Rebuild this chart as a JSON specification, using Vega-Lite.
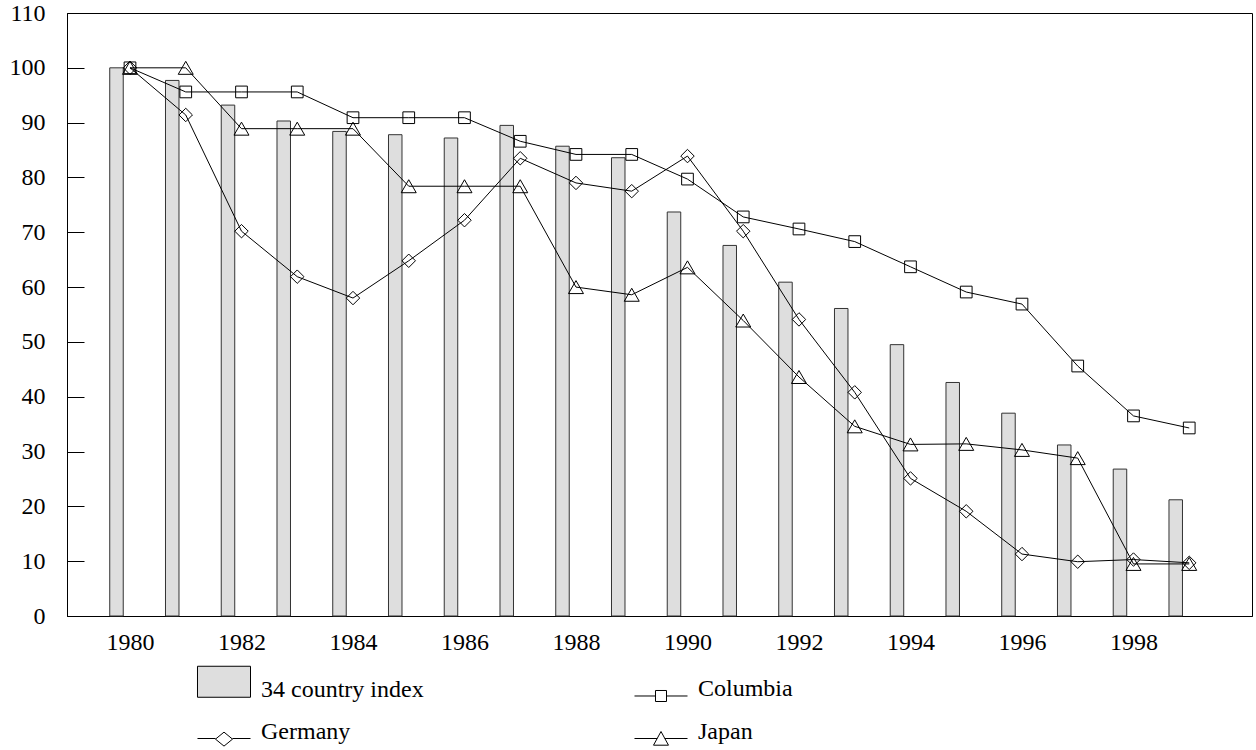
{
  "$schema": "https://vega.github.io/schema/vega-lite/v6.json",
  "autosize": {"type": "none"},
  "width": 1185,
  "height": 603,
  "padding": {"left": 67, "top": 13, "right": 4, "bottom": 134},
  "background": "white",
  "config": {
    "view": {"stroke": "black", "strokeWidth": 1},
    "font": "Liberation Serif, Times New Roman, serif",
    "axis": {
      "labelFont": "Liberation Serif, Times New Roman, serif",
      "labelFontSize": 24,
      "labelColor": "black",
      "domainColor": "black",
      "tickColor": "black",
      "grid": false,
      "title": null
    },
    "legend": {
      "labelFont": "Liberation Serif, Times New Roman, serif"
    }
  },
  "data": {
    "values": [
      {"year": 1980, "series": "34 country index", "value": 100},
      {"year": 1981, "series": "34 country index", "value": 97.7},
      {"year": 1982, "series": "34 country index", "value": 93.2},
      {"year": 1983, "series": "34 country index", "value": 90.3},
      {"year": 1984, "series": "34 country index", "value": 88.4},
      {"year": 1985, "series": "34 country index", "value": 87.8},
      {"year": 1986, "series": "34 country index", "value": 87.2},
      {"year": 1987, "series": "34 country index", "value": 89.5},
      {"year": 1988, "series": "34 country index", "value": 85.7},
      {"year": 1989, "series": "34 country index", "value": 83.6},
      {"year": 1990, "series": "34 country index", "value": 73.7},
      {"year": 1991, "series": "34 country index", "value": 67.6},
      {"year": 1992, "series": "34 country index", "value": 60.9},
      {"year": 1993, "series": "34 country index", "value": 56.1},
      {"year": 1994, "series": "34 country index", "value": 49.5},
      {"year": 1995, "series": "34 country index", "value": 42.6},
      {"year": 1996, "series": "34 country index", "value": 37.0},
      {"year": 1997, "series": "34 country index", "value": 31.2},
      {"year": 1998, "series": "34 country index", "value": 26.8},
      {"year": 1999, "series": "34 country index", "value": 21.2},
      {"year": 1980, "series": "Columbia", "value": 100},
      {"year": 1981, "series": "Columbia", "value": 95.6},
      {"year": 1982, "series": "Columbia", "value": 95.6},
      {"year": 1983, "series": "Columbia", "value": 95.6},
      {"year": 1984, "series": "Columbia", "value": 90.9},
      {"year": 1985, "series": "Columbia", "value": 90.9},
      {"year": 1986, "series": "Columbia", "value": 90.9},
      {"year": 1987, "series": "Columbia", "value": 86.6},
      {"year": 1988, "series": "Columbia", "value": 84.2},
      {"year": 1989, "series": "Columbia", "value": 84.2},
      {"year": 1990, "series": "Columbia", "value": 79.7},
      {"year": 1991, "series": "Columbia", "value": 72.8},
      {"year": 1992, "series": "Columbia", "value": 70.6},
      {"year": 1993, "series": "Columbia", "value": 68.3},
      {"year": 1994, "series": "Columbia", "value": 63.7},
      {"year": 1995, "series": "Columbia", "value": 59.1},
      {"year": 1996, "series": "Columbia", "value": 56.9},
      {"year": 1997, "series": "Columbia", "value": 45.6},
      {"year": 1998, "series": "Columbia", "value": 36.5},
      {"year": 1999, "series": "Columbia", "value": 34.3},
      {"year": 1980, "series": "Germany", "value": 100},
      {"year": 1981, "series": "Germany", "value": 91.4},
      {"year": 1982, "series": "Germany", "value": 70.2},
      {"year": 1983, "series": "Germany", "value": 61.9},
      {"year": 1984, "series": "Germany", "value": 58.0},
      {"year": 1985, "series": "Germany", "value": 64.8},
      {"year": 1986, "series": "Germany", "value": 72.2},
      {"year": 1987, "series": "Germany", "value": 83.5},
      {"year": 1988, "series": "Germany", "value": 79.0},
      {"year": 1989, "series": "Germany", "value": 77.5},
      {"year": 1990, "series": "Germany", "value": 83.9},
      {"year": 1991, "series": "Germany", "value": 70.2},
      {"year": 1992, "series": "Germany", "value": 54.1},
      {"year": 1993, "series": "Germany", "value": 40.8},
      {"year": 1994, "series": "Germany", "value": 25.1},
      {"year": 1995, "series": "Germany", "value": 19.1},
      {"year": 1996, "series": "Germany", "value": 11.3},
      {"year": 1997, "series": "Germany", "value": 9.9},
      {"year": 1998, "series": "Germany", "value": 10.3},
      {"year": 1999, "series": "Germany", "value": 9.7},
      {"year": 1980, "series": "Japan", "value": 100},
      {"year": 1981, "series": "Japan", "value": 100},
      {"year": 1982, "series": "Japan", "value": 88.9},
      {"year": 1983, "series": "Japan", "value": 88.9},
      {"year": 1984, "series": "Japan", "value": 88.9},
      {"year": 1985, "series": "Japan", "value": 78.4},
      {"year": 1986, "series": "Japan", "value": 78.4},
      {"year": 1987, "series": "Japan", "value": 78.4},
      {"year": 1988, "series": "Japan", "value": 60.0},
      {"year": 1989, "series": "Japan", "value": 58.6},
      {"year": 1990, "series": "Japan", "value": 63.6},
      {"year": 1991, "series": "Japan", "value": 53.9},
      {"year": 1992, "series": "Japan", "value": 43.6},
      {"year": 1993, "series": "Japan", "value": 34.6},
      {"year": 1994, "series": "Japan", "value": 31.3},
      {"year": 1995, "series": "Japan", "value": 31.4},
      {"year": 1996, "series": "Japan", "value": 30.3},
      {"year": 1997, "series": "Japan", "value": 28.8},
      {"year": 1998, "series": "Japan", "value": 9.5},
      {"year": 1999, "series": "Japan", "value": 9.5}
    ]
  },
  "encoding": {
    "x": {
      "field": "year",
      "type": "quantitative",
      "scale": {"domain": [1978.87, 2000.126], "nice": false, "zero": false, "padding": 0},
      "axis": {
        "values": [1980, 1982, 1984, 1986, 1988, 1990, 1992, 1994, 1996, 1998],
        "format": "d",
        "ticks": false,
        "labelPadding": 14,
        "labelFlush": false,
        "labelOverlap": false
      }
    },
    "y": {
      "field": "value",
      "type": "quantitative",
      "scale": {"domain": [0, 110], "nice": false},
      "axis": {
        "values": [0, 10, 20, 30, 40, 50, 60, 70, 80, 90, 100, 110],
        "tickSize": -17,
        "labelPadding": 39,
        "labelFlush": false,
        "labelOverlap": false
      }
    }
  },
  "layer": [
    {
      "transform": [{"filter": "datum.series === '34 country index'"}],
      "mark": {"type": "bar", "size": 13.5, "xOffset": -13.5, "fill": "#dedede", "stroke": "#333333", "strokeWidth": 1}
    },
    {
      "transform": [{"filter": "datum.series !== '34 country index'"}],
      "mark": {"type": "line", "strokeWidth": 1},
      "encoding": {
        "color": {
          "field": "series",
          "type": "nominal",
          "scale": {
            "domain": ["34 country index", "Columbia", "Germany", "Japan"],
            "range": ["black", "black", "black", "black"]
          },
          "legend": {
            "orient": "none",
            "legendX": 135.5,
            "legendY": 661,
            "direction": "horizontal",
            "columns": 2,
            "columnPadding": 207,
            "rowPadding": 13,
            "padding": 0,
            "title": null,
            "symbolSize": 1764,
            "symbolStrokeWidth": 1,
            "labelFont": "Liberation Serif, Times New Roman, serif",
            "labelFontSize": 24,
            "labelColor": "black",
            "labelOffset": 15.5,
            "labelBaseline": "alphabetic",
            "labelLimit": 400,
            "encode": {
              "symbols": {
                "update": {
                  "shape": [
                    {"test": "datum.value === '34 country index'", "value": "M-1.262,-1.476H1.262V0H-1.262Z"},
                    {"test": "datum.value === 'Columbia'", "value": "M-1.262,0H-0.262M0.262,0H1.262M-0.262,-0.262H0.262V0.262H-0.262Z"},
                    {"test": "datum.value === 'Germany'", "value": "M-1.262,0H-0.405M0.405,0H1.262M-0.405,0.03L0,-0.303L0.405,0.03L0,0.363Z"},
                    {"value": "M-1.262,0H-0.18M0.18,0H1.262M-0.357,0.319L0,-0.333L0.357,0.319Z"}
                  ],
                  "size": {"value": 1764},
                  "fill": [
                    {"test": "datum.value === '34 country index'", "value": "#dedede"},
                    {"value": "transparent"}
                  ],
                  "stroke": {"value": "black"},
                  "strokeWidth": {"value": 1},
                  "opacity": {"value": 1}
                }
              }
            }
          }
        }
      }
    },
    {
      "transform": [{"filter": "datum.series !== '34 country index'"}],
      "mark": {"type": "point", "filled": false, "color": "black", "strokeWidth": 1, "opacity": 1},
      "encoding": {
        "shape": {
          "field": "series",
          "type": "nominal",
          "scale": {"domain": ["Columbia", "Germany", "Japan"], "range": ["square", "diamond", "triangle-up"]},
          "legend": null
        },
        "size": {
          "field": "series",
          "type": "nominal",
          "scale": {"domain": ["Columbia", "Germany", "Japan"], "range": [137, 225, 196]},
          "legend": null
        }
      }
    }
  ]
}
